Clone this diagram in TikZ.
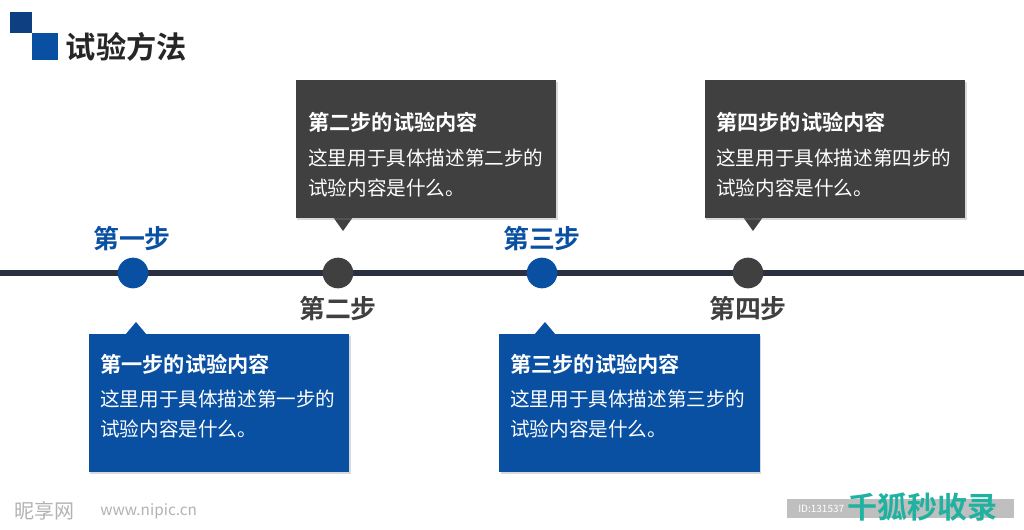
\documentclass[tikz,border=0pt]{standalone}
\usepackage{fontspec}
\setmainfont{Noto Sans CJK SC}
\newfontfamily\cjkbold{Noto Sans CJK SC Bold}
\usepackage{xcolor}
\usepackage{tikz}
\usetikzlibrary{shadows, positioning}
\definecolor{stepblue}{HTML}{0A50A2}
\definecolor{stepgray}{HTML}{404040}
\definecolor{darkblue}{HTML}{0E3F80}
\definecolor{linecolor}{HTML}{2A3040}
\definecolor{markgreen}{HTML}{20B2A0}
\tikzset{
  box/.style={inner sep=0pt, minimum width=195.5pt, minimum height=103.5pt, drop shadow={shadow xshift=1pt, shadow yshift=-1.5pt, opacity=0.3}},
  boxhead/.style={text=white, inner sep=0pt, anchor=west, font=\cjkbold\fontsize{15.9}{18}\selectfont},
  boxbody/.style={text=white, inner sep=0pt, anchor=west, align=left, font=\fontsize{14.7}{22.5}\selectfont},
  steplabel/.style={inner sep=0pt, font=\cjkbold\fontsize{19.4}{22}\selectfont},
  dot/.style={circle, inner sep=0pt, minimum size=23pt}
}
\begin{document}
\begin{tikzpicture}[x=0.75pt, y=-0.75pt]
  \useasboundingbox (0,0) rectangle (1024,529);
  % title
  \node[fill=darkblue, minimum width=16.5pt, minimum height=16pt, inner sep=0pt] (sq1) at (21,22.5) {};
  \node[fill=stepblue, minimum width=20pt, minimum height=20pt, inner sep=0pt] (sq2) at (45,46.5) {};
  \node[inner sep=0pt, anchor=west, font=\cjkbold\fontsize{22.7}{26}\selectfont, text=black!85] (title) at (65.5,47) {试验方法};
  % time line
  \coordinate (lineL) at (0,273);
  \coordinate (lineR) at (1024,273);
  \draw[line width=4.5pt, linecolor] (lineL) -- (lineR);
  \node[dot, fill=stepblue] (d1) at (133,273) {};
  \node[dot, fill=stepgray] (d2) at (338,273) {};
  \node[dot, fill=stepblue] (d3) at (542,273) {};
  \node[dot, fill=stepgray] (d4) at (748,273) {};
  \node[steplabel, text=stepblue] (s1) at (132,239) {第一步};
  \node[steplabel, text=stepgray] (s2) at (338,309) {第二步};
  \node[steplabel, text=stepblue] (s3) at (542,239) {第三步};
  \node[steplabel, text=stepgray] (s4) at (748,309) {第四步};
  % step 1
  \fill[stepblue] (125,335) -- (136,322) -- (147,335) -- cycle;
  \node[box, fill=stepblue] (b1) at (219,403) {};
  \node[boxhead] (h1) at (100,364) {第一步的试验内容};
  \node[boxbody] (t1) at (100,414) {这里用于具体描述第一步的\\试验内容是什么。};
  % step 2
  \fill[stepgray] (333,217) -- (343,231) -- (353,217) -- cycle;
  \node[box, fill=stepgray] (b2) at (426,149) {};
  \node[boxhead] (h2) at (308,122) {第二步的试验内容};
  \node[boxbody] (t2) at (308,173) {这里用于具体描述第二步的\\试验内容是什么。};
  % step 3
  \fill[stepblue] (534,335) -- (545,322) -- (556,335) -- cycle;
  \node[box, fill=stepblue] (b3) at (629.5,403) {};
  \node[boxhead] (h3) at (510,364) {第三步的试验内容};
  \node[boxbody] (t3) at (510,414) {这里用于具体描述第三步的\\试验内容是什么。};
  % step 4
  \fill[stepgray] (743,217) -- (753,231) -- (763,217) -- cycle;
  \node[box, fill=stepgray] (b4) at (835,149) {};
  \node[boxhead] (h4) at (716,122) {第四步的试验内容};
  \node[boxbody] (t4) at (716,173) {这里用于具体描述第四步的\\试验内容是什么。};
  % marks
  \node[inner sep=0pt, anchor=west, text=black!30, font=\fontsize{15}{18}\selectfont] (m1) at (14,511) {昵享网};
  \node[inner sep=0pt, anchor=west, text=black!30, font=\itshape\fontsize{11.5}{14}\selectfont] (m2) at (100,511) {www.nipic.cn};
  \node[fill=black!25, minimum width=170pt, minimum height=14.5pt, inner sep=0pt] (idbar) at (900.5,508.5) {};
  \node[inner sep=0pt, anchor=west, text=white, font=\fontsize{7.5}{10}\selectfont] (idtext) at (798,509) {ID:131537};
  \node[inner sep=0pt, anchor=west, text=markgreen, font=\cjkbold\fontsize{22.5}{24}\selectfont] (m3) at (847,507) {千狐秒收录};
\end{tikzpicture}
\end{document}
